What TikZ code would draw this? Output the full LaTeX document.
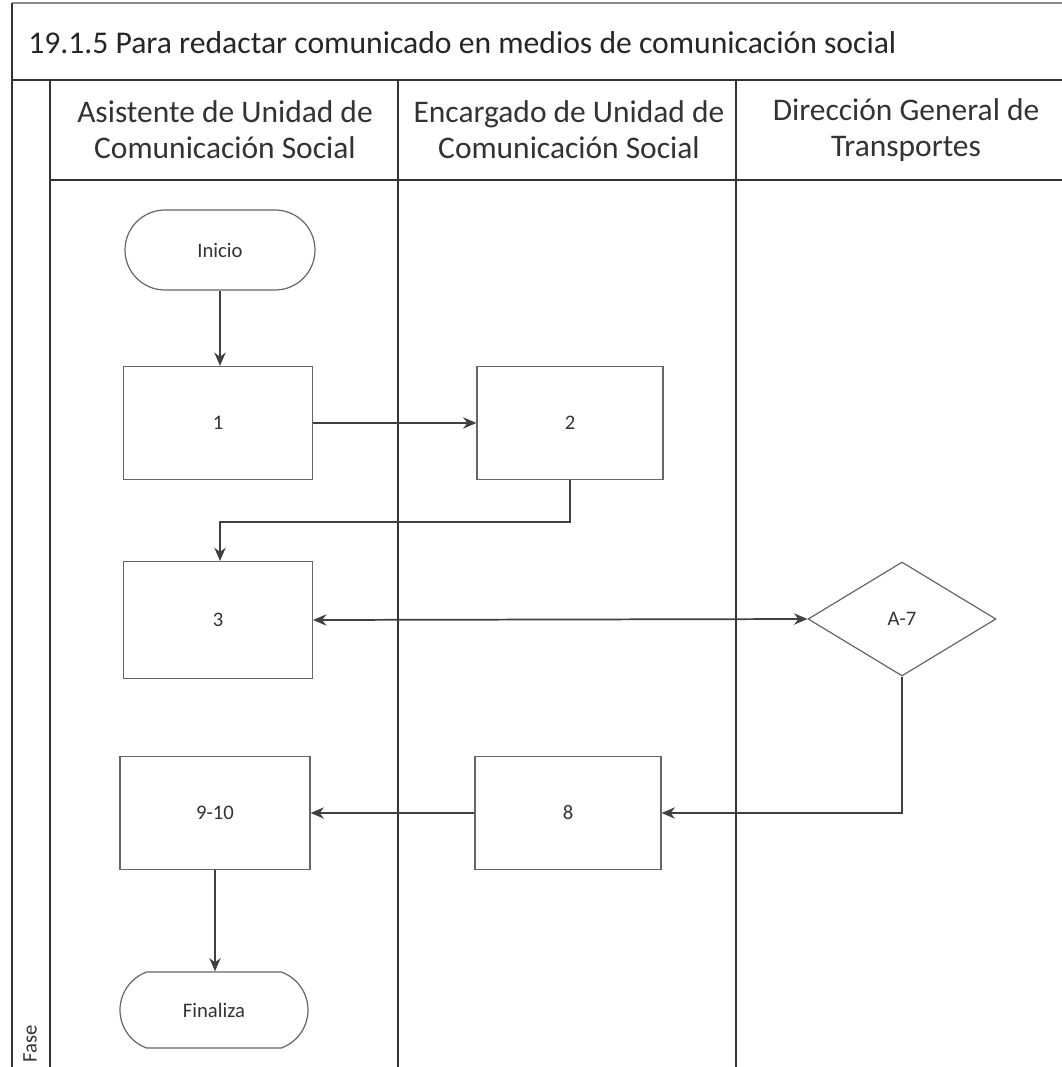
\documentclass[tikz,border=0pt]{standalone}
\usepackage{fontspec}
\setmainfont{Carlito}
\usetikzlibrary{arrows.meta,shapes.geometric,shapes.misc}
\begin{document}
\begin{tikzpicture}[x=0.75pt,y=-0.75pt,
  lane/.style={line width=1.4pt, draw=black!80},
  thinlane/.style={line width=1pt, draw=black!45},
  nodetext/.style={font=\fontsize{15.5}{18}\selectfont, text=black!80},
  proc/.style={nodetext, draw=black!60, line width=0.9pt, rectangle, inner sep=0pt},
  term/.style={nodetext, draw=black!60, line width=0.9pt, rounded rectangle, inner sep=0pt},
  decision/.style={nodetext, draw=black!60, line width=0.9pt, diamond, inner sep=0pt, shape aspect=1.65},
  conn/.style={line width=1.3pt, draw=black!75, -{Stealth[length=10pt,width=8.5pt]}},
  dconn/.style={line width=1.3pt, draw=black!75, {Stealth[length=10pt,width=8.5pt]}-{Stealth[length=10pt,width=8.5pt]}},
  hdr/.style={font=\fontsize{23.6}{27}\selectfont, text=black!80, align=center, inner sep=0pt},
  ttl/.style={font=\fontsize{23.75}{28}\selectfont, text=black!85, inner sep=0pt}]
\useasboundingbox (0,0) rectangle (1062,1067);
\fill[white] (0,0) rectangle (1062,1067);

% frame and lanes
\draw[thinlane] (12,3) -- (1062,3);
\draw[lane] (12,3) -- (12,1067);
\draw[lane] (12,80) -- (1062,80);
\draw[lane] (50,80) -- (50,1067);
\draw[lane] (50,180) -- (1062,180);
\draw[lane] (398,80) -- (398,1067);
\draw[lane] (736,80) -- (736,1067);

% title and headers
\node[ttl, anchor=base west] (title) at (28,53) {19.1.5 Para redactar comunicado en medios de comunicación social};
\node[hdr] (h1) at (225,130) {Asistente de Unidad de\\Comunicación Social};
\node[hdr] (h2) at (569,130) {Encargado de Unidad de\\Comunicación Social};
\node[hdr] (h3) at (906,130) {Dirección General de\\Transportes};
\node[nodetext, rotate=90] (fase) at (30,1044) {Fase};

% nodes
\node[term, minimum width=142.5pt, minimum height=60pt] (ini) at (220,250) {Inicio};
\node[proc, minimum width=141.75pt, minimum height=84.75pt] (b1) at (218,423) {1};
\node[proc, minimum width=139.5pt, minimum height=84.75pt] (b2) at (570,423) {2};
\node[proc, minimum width=141.75pt, minimum height=87.75pt] (b3) at (218,620) {3};
\node[decision, minimum width=141pt, minimum height=85.5pt] (d47) at (902,619) {A-7};
\node[proc, minimum width=139.5pt, minimum height=84.75pt] (b8) at (568,813) {8};
\node[proc, minimum width=142.5pt, minimum height=84.75pt] (b910) at (215,813) {9-10};
\node[term, rounded rectangle arc length=140, minimum width=141pt, minimum height=57pt] (fin) at (214,1010) {Finaliza};

% connectors
\draw[conn] (ini.south) -- (ini.south |- b1.north);
\draw[conn] (b1.east) -- (b2.west);
\draw[conn] (b2.south) -- (570,522) -- (220,522) -- (220,561);
\draw[dconn] (b3.east) -- (d47.west);
\draw[conn] (d47.south) -- (d47.south |- b8.east) -- (b8.east);
\draw[conn] (b8.west) -- (b910.east);
\draw[conn] (b910.south) -- (b910.south |- fin.north);
\end{tikzpicture}
\end{document}
